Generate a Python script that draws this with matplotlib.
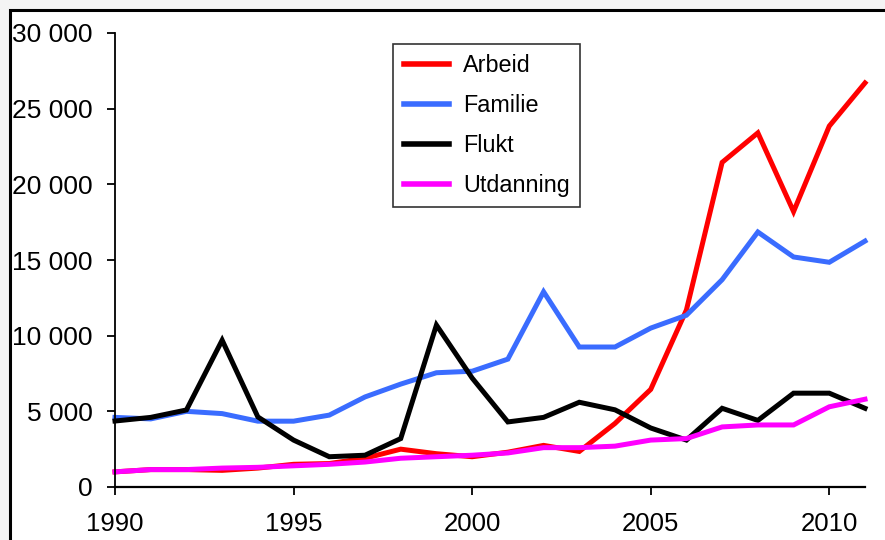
#!/usr/bin/env python3
"""Innvandring etter grunn, 1990-2011"""

import matplotlib

matplotlib.use("Agg")

import matplotlib.pyplot as plt
from matplotlib.patches import Rectangle
from matplotlib.ticker import FuncFormatter, MultipleLocator

plt.rcParams["font.family"] = ["Liberation Sans", "DejaVu Sans"]

years = list(range(1990, 2012))

arbeid = [1000, 1150, 1150, 1100, 1250, 1500, 1550, 1900, 2500, 2200, 2000,
          2300, 2750, 2350, 4200, 6450, 11700, 21450, 23400, 18200, 23850, 26700]
familie = [4600, 4500, 5000, 4850, 4350, 4350, 4750, 5950, 6800, 7550, 7650,
           8450, 12900, 9250, 9250, 10500, 11350, 13700, 16850, 15200, 14850, 16250]
flukt = [4360, 4600, 5090, 9700, 4630, 3100, 2000, 2100, 3200, 10700, 7200,
         4300, 4600, 5600, 5100, 3900, 3100, 5200, 4400, 6200, 6200, 5200]
utdanning = [1000, 1150, 1150, 1250, 1300, 1400, 1500, 1650, 1900, 2000, 2100,
             2250, 2600, 2600, 2700, 3100, 3200, 3970, 4100, 4100, 5300, 5800]

series = [
    ("Arbeid", arbeid, "#ff0000"),
    ("Familie", familie, "#3a6cff"),
    ("Flukt", flukt, "#000000"),
    ("Utdanning", utdanning, "#ff00ff"),
]


def space_thousands(v, _pos):
    return f"{int(round(v)):,}".replace(",", " ")


def main():
    W, H = 885, 540
    fig = plt.figure(figsize=(W / 100, H / 100), dpi=100, facecolor="#f4f4f4")

    # ramme rundt figuren (høyre/nedre kant er kuttet av)
    fig.patches.append(Rectangle((9.5 / W, -0.05), 1.2, 1 - 9.5 / H + 0.05,
                                 transform=fig.transFigure, facecolor="white",
                                 edgecolor="black", linewidth=2.2, zorder=-1))

    ax = fig.add_axes([115 / W, 1 - 487 / H, (865 - 115) / W, (487 - 33) / H])
    ax.set_facecolor("none")

    for name, vals, col in series:
        ax.plot(years, vals, color=col, linewidth=3.6, label=name,
                solid_joinstyle="miter", clip_on=False)

    ax.set_xlim(1990, 2011)
    ax.set_ylim(0, 30000)
    ax.xaxis.set_major_locator(MultipleLocator(5))
    ax.yaxis.set_major_locator(MultipleLocator(5000))
    ax.yaxis.set_major_formatter(FuncFormatter(space_thousands))

    for s in ("top", "right"):
        ax.spines[s].set_visible(False)
    ax.spines["left"].set_linewidth(1.3)
    ax.spines["bottom"].set_linewidth(1.6)
    ax.tick_params(axis="both", direction="out", length=6, width=1.3, color="black")
    ax.tick_params(axis="y", labelsize=19, pad=10)
    ax.tick_params(axis="x", labelsize=18.5, pad=12)

    leg = ax.legend(loc="upper left", bbox_to_anchor=((393 - 115) / 750, (487 - 44) / 454),
                    borderaxespad=0, fontsize=16.8, frameon=True, fancybox=False,
                    edgecolor="black", handlelength=1.95, handletextpad=0.6,
                    labelspacing=0.72, borderpad=0.45)
    leg.get_frame().set_linewidth(1.2)
    for line in leg.get_lines():
        line.set_linewidth(4)

    fig.savefig("out.png", dpi=100, facecolor=fig.get_facecolor())
    plt.close(fig)


if __name__ == "__main__":
    main()
